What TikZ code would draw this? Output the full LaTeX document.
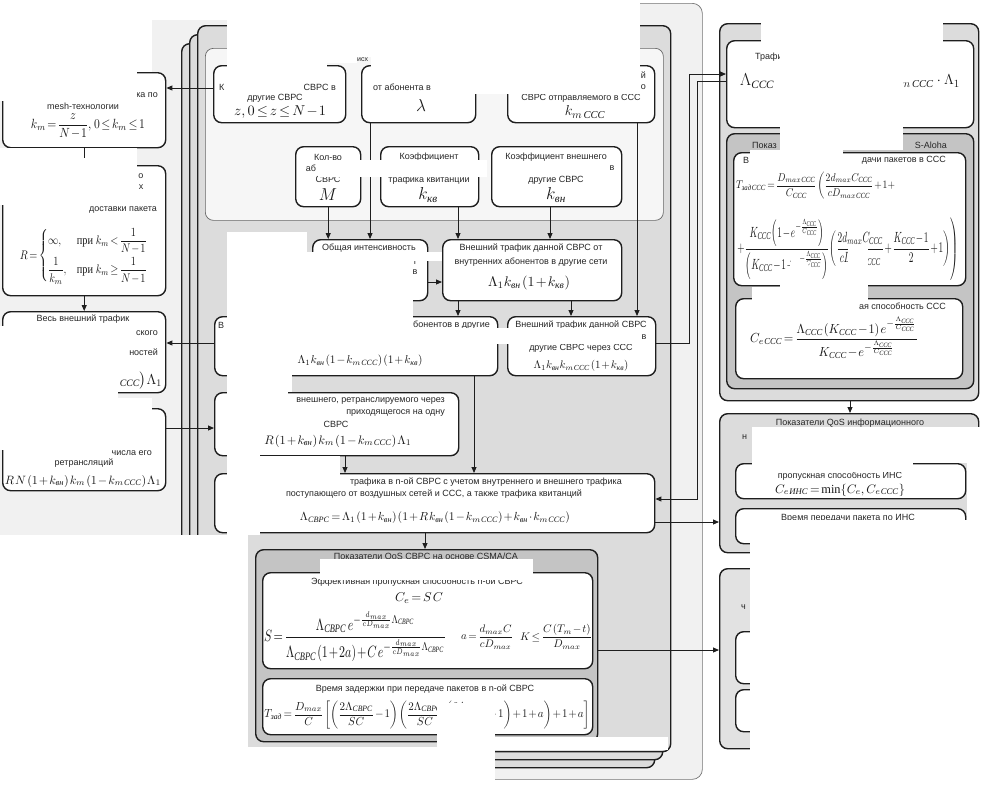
\documentclass[tikz,border=0pt]{standalone}
\usepackage{fontspec}
\usepackage{amsmath}
\usepackage{graphicx}
\setmainfont{Liberation Serif}
\setsansfont{Liberation Sans}
\usetikzlibrary{arrows.meta,calc}
\definecolor{outerc}{HTML}{F1F1F1}
\definecolor{cardc}{HTML}{DCDCDC}
\definecolor{panelc}{HTML}{F6F6F6}
\definecolor{secc}{HTML}{C4C4C4}
\definecolor{brc}{HTML}{E2E2E2}
\definecolor{bdr}{HTML}{1E1E1E}
\newcommand\cy[1]{\text{\itshape #1}}
\newcommand\kvn{k_{\cy{вн}}}
\newcommand\kkv{k_{\cy{кв}}}
\newcommand\Cs{\cy{ССС}}
\newcommand\SV{\cy{СВРС}}
\newcommand\kmc{k_{m\,\Cs}}
\newcommand\bx[6]{\node[#6,anchor=north west,inner sep=0pt,minimum width={((#4)-(#2))*1pt},minimum height={((#5)-(#3))*1pt}] (#1) at (#2,#3) {};}
\newcommand\tight{\medmuskip=1.5mu\thickmuskip=2.5mu\thinmuskip=1.5mu}
\newcommand\fm[2]{\resizebox{#1pt}{!}{\tight$\displaystyle #2$}}
\newcommand\fmh[3]{\resizebox*{#1pt}{#2pt}{\tight$\displaystyle #3$}}
\begin{document}
\begin{tikzpicture}[x=1pt,y=-1pt,
  box/.style={draw=bdr,line width=1.4pt,rounded corners=8pt,fill=white},
  lbl/.style={font=\sffamily\fontsize{9}{10.5}\selectfont,text=black!85,inner sep=0pt},
  fml/.style={inner sep=0pt,text=black!90},
  arr/.style={-{Triangle[length=6pt,width=5pt]},line width=0.9pt,draw=bdr},
  patch/.style={fill=white}]
\useasboundingbox (0,0) rectangle (982,785);
% containers
\bx{outer}{-10}{3}{702}{779}{draw=black!55,line width=0.7pt,fill=outerc,rounded corners=10pt}
\bx{cardc}{181}{43}{654}{767}{box,fill=cardc}
\bx{cardb}{189}{34}{662}{759}{box,fill=cardc}
\bx{carda}{197}{25}{670}{751}{box,fill=cardc}
\bx{panel}{205}{48}{663}{220}{draw=black!60,line width=0.7pt,fill=panelc,rounded corners=8pt}
% left column
\bx{L1}{2}{72}{165}{147}{box}
\bx{L2}{2}{165}{165}{295}{box}
\bx{L3}{2}{311}{165}{392}{box}
\bx{L4}{2}{408}{165}{490}{box}
% panel boxes
\bx{Z}{213}{65}{345}{122}{box}
\bx{Lam}{361}{65}{475}{122}{box}
\bx{Kmc}{507}{65}{654}{122}{box}
\bx{M}{295}{146}{360}{206}{box}
\bx{Kkv}{380}{146}{478}{206}{box}
\bx{Kvn}{491}{146}{621}{206}{box}
% middle
\bx{Int}{312}{239}{427}{300}{box}
\bx{IT}{442}{239}{621}{300}{box}
\bx{B1}{214}{316}{497}{375}{box}
\bx{B2}{507}{316}{655}{375}{box}
\bx{Rb}{214}{392}{458}{455}{box}
\bx{LC}{214}{473}{654}{532}{box}
\bx{CS}{255}{549}{597}{741}{box,fill=secc}
\bx{Sb}{262}{572}{592}{668}{box}
\bx{Tb}{262}{678}{592}{734}{box}
% right column
\bx{RC1}{719}{23}{978}{400}{box,fill=cardc}
\bx{TC}{726}{40}{973}{127}{box}
\bx{SA}{726}{133}{973}{388}{box,fill=secc}
\bx{Tc}{733}{152}{965}{285}{box}
\bx{Cc}{735}{298}{962}{378}{box}
\bx{IQ}{719}{413}{978}{552}{box,fill=cardc}
\bx{IQa}{735}{463}{965}{498}{box}
\bx{IQb}{735}{508}{965}{543}{box}
\bx{BR}{719}{568}{978}{748}{box,fill=brc}
\bx{BRa}{735}{631}{965}{683}{box}
\bx{BRb}{735}{689}{965}{731}{box}
% connectors
\draw[arr] (Z.west |- 0,88) -- (L1.east |- 0,88);
\draw[arr] (L1.south) -- (L2.north);
\draw[arr] (L2.south) -- (L3.north);
\draw[arr] (B1.west |- 0,343) -- (L3.east |- 0,343);
\draw[arr] (L4.east |- 0,428) -- (Rb.west |- 0,428);
\draw[arr] (M.south) -- (Int.north -| M.south);
\draw[arr] (Lam.south -| 370,0) -- (Int.north -| 370,0);
\draw[arr] (Kkv.south -| 458,0) -- (IT.north -| 458,0);
\draw[arr] (Kvn.south -| 550,0) -- (IT.north -| 550,0);
\draw[arr] (Int.east |- 0,282) -- (IT.west |- 0,282);
\draw[arr] (Kmc.south -| 637,0) -- (B2.north -| 637,0);
\draw[arr] (IT.south -| 458,0) -- (B1.north -| 458,0);
\draw[arr] (IT.south -| 571,0) -- (B2.north -| 571,0);
\draw[arr] (Rb.south -| 345,0) -- (LC.north -| 345,0);
\draw[arr] (B1.south -| 474,0) -- (LC.north -| 474,0);
\draw[arr] (LC.south -| 425,0) -- (CS.north -| 425,0);
\draw[arr] (B2.east |- 0,343) -- (689,343) -- (689,74) -- (TC.west |- 0,74);
\draw[arr] (TC.west |- 0,81) -- (697,81) -- (697,499) -- (LC.east |- 0,499);
\draw[arr] (LC.east |- 0,522) -- (IQ.west |- 0,522);
\draw[arr] (CS.east |- 0,650) -- (BR.west |- 0,650);
\draw[arr] (RC1.south -| 850,0) -- (IQ.north -| 850,0);
% texts: left column
\node[lbl,anchor=east] (t1) at (158,95) {трафика по};
\node[lbl] (t2) at (83,106) {mesh-технологии};
\node[fml] (f1) at (88,126) {\fmh{114}{25}{k_m=\frac{z}{N-1},\;0\le k_m\le 1}};
\node[lbl] (t3) at (141,176) {о};
\node[lbl] (t4) at (141,187) {х};
\node[lbl,anchor=east] (t5) at (157,210) {доставки пакета};
\node[fml] (f2) at (84,256) {\fmh{128}{56}{R=\begin{cases}\infty, & \text{при } k_m<\dfrac{1}{N-1}\\[6pt] \dfrac{1}{k_m}, & \text{при } k_m\ge\dfrac{1}{N-1}\end{cases}}};
\node[lbl] (t6) at (83,319) {Весь внешний трафик};
\node[lbl,anchor=east] (t7) at (158,333) {ского};
\node[lbl,anchor=east] (t8) at (158,352) {ностей};
\node[fml,anchor=east] (f3) at (162,381) {\fontsize{14}{16}\selectfont$\kmc\bigr)\Lambda_1$};
\node[lbl,anchor=east] (t9) at (152,453) {числа его};
\node[lbl] (t10) at (84,463) {ретрансляций};
\node[fml] (f4) at (83,481) {\fm{156}{R\,N\left(1+\kvn\right)k_m\left(1-\kmc\right)\Lambda_1}};
% panel texts
\node[lbl,anchor=west] (t11) at (219,87) {К};
\node[lbl,anchor=east] (t12) at (336,87) {СВРС в};
\node[lbl] (t13) at (275,98) {другие СВРС};
\node[fml] (f5) at (280,112) {\fm{92}{z,\,0\le z\le N-1}};
\node[lbl,anchor=west,font=\sffamily\fontsize{7}{8}\selectfont] (t14) at (357,60) {исх};
\node[lbl] (t15) at (402,87) {от абонента в};
\node[fml] (f6) at (421,105) {\fontsize{19}{21}\selectfont$\lambda$};
\node[lbl,anchor=east] (t16) at (646,75) {й};
\node[lbl,anchor=east] (t17) at (646,87) {о};
\node[lbl] (t18) at (581,98) {СВРС отправляемого в ССС};
\node[fml] (f7) at (585,112) {\fontsize{15}{17}\selectfont$\kmc$};
\node[lbl] (t19) at (328,157) {Кол-во};
\node[lbl] (t20) at (311,168) {аб};
\node[lbl] (t21) at (328,179) {СВРС};
\node[fml] (f8) at (328,195) {\fontsize{16}{18}\selectfont$M$};
\node[lbl] (t22) at (429,157) {Коэффициент};
\node[lbl] (t23) at (429,180) {трафика квитанций};
\node[fml] (f9) at (428,195) {\fontsize{16}{18}\selectfont$\kkv$};
\node[lbl] (t24) at (556,157) {Коэффициент внешнего};
\node[lbl] (t25) at (612,168) {в};
\node[lbl] (t26) at (556,180) {другие СВРС};
\node[fml] (f10) at (556,195) {\fontsize{16}{18}\selectfont$\kvn$};
% middle texts
\node[lbl] (t27) at (369,248) {Общая интенсивность};
\node[lbl] (t28) at (415,262) {т};
\node[lbl] (t29) at (415,272) {в};
\node[lbl] (t30) at (531,248) {Внешний трафик данной СВРС от};
\node[lbl] (t31) at (531,262) {внутренних абонентов в другие сети};
\node[fml] (f11) at (529,283) {\fm{82}{\Lambda_1 \kvn\left(1+\kkv\right)}};
\node[lbl,anchor=west] (t32) at (218,325) {В};
\node[lbl,anchor=east] (t33) at (490,325) {абонентов в другие};
\node[fml] (f12) at (360,361) {\fm{125}{\Lambda_1 \kvn\left(1-\kmc\right)\left(1+\kkv\right)}};
\node[lbl] (t34) at (581,325) {Внешний трафик данной СВРС};
\node[lbl] (t35) at (644,337) {в};
\node[lbl] (t36) at (581,348) {другие СВРС через ССС};
\node[fml] (f13) at (581,366) {\fm{95}{\Lambda_1 \kvn\kmc\left(1+\kkv\right)}};
\node[lbl,anchor=east] (t37) at (445,401) {внешнего, ретранслируемого через};
\node[lbl,anchor=east] (t38) at (445,413) {приходящегося на одну};
\node[lbl] (t39) at (336,424) {СВРС};
\node[fml] (f14) at (338,441) {\fm{147}{R\left(1+\kvn\right)k_m\left(1-\kmc\right)\Lambda_1}};
\node[lbl,anchor=east] (t40) at (622,482) {трафика в n-ой СВРС с учетом внутреннего и внешнего трафика};
\node[lbl] (t41) at (434,494) {поступающего от воздушных сетей и ССС, а также трафика квитанций};
\node[fml] (f15) at (435,518) {\fm{270}{\Lambda_{\SV}=\Lambda_1\left(1+\kvn\right)\left(1+R\,\kvn\left(1-\kmc\right)+\kvn\cdot\kmc\right)}};
% CSMA
\node[lbl] (t42) at (426,557) {Показатели QoS СВРС на основе CSMA/CA};
\node[lbl] (t43) at (417,582) {Эффективная пропускная способность n-ой СВРС};
\node[fml] (f16) at (419,598) {\fm{48}{C_e=S\,C}};
\node[fml] (f17) at (355,637) {\fmh{182}{50}{S=\frac{\Lambda_{\SV}\;e^{-\frac{d_{max}}{cD_{max}}\Lambda_{\SV}}}{\Lambda_{\SV}\left(1+2a\right)+C\,e^{-\frac{d_{max}}{cD_{max}}\Lambda_{\SV}}}}};
\node[fml] (f18) at (487,637) {\fm{52}{a=\frac{d_{max}C}{cD_{max}}}};
\node[fml] (f19) at (556,637) {\fm{72}{K\le\frac{C\left(T_m-t\right)}{D_{max}}}};
\node[lbl] (t44) at (425,689) {Время задержки при передаче пакетов в n-ой СВРС};
\node[fml] (f20) at (427,715) {\fmh{325}{28}{T_{\cy{зад}}=\frac{D_{max}}{C}\left[\left(\frac{2\Lambda_{\SV}}{SC}-1\right)\left(\frac{2\Lambda_{\SV}}{SC}\left(\frac{2\Lambda_{\SV}}{SC}-1\right)+1+a\right)+1+a\right]}};
% right texts
\node[lbl,anchor=west] (t45) at (755,57) {Трафик};
\node[fml,anchor=west] (f21) at (740,81) {\fontsize{16}{18}\selectfont$\Lambda_{\Cs}$};
\node[fml,anchor=east] (f22) at (960,81) {\fontsize{15}{17}\selectfont$\kmc\cdot\Lambda_1$};
\node[lbl,anchor=west] (t46) at (752,145) {Показ};
\node[lbl,anchor=east] (t47) at (947,145) {S-Aloha};
\node[lbl,anchor=west] (t48) at (743,160) {В};
\node[lbl,anchor=east] (t49) at (946,160) {дачи пакетов в ССС};
\node[fml,anchor=west] (f23) at (736,186) {\fmh{160}{27}{T_{\cy{зад}\,\Cs}=\frac{D_{max\,\Cs}}{C_{\Cs}}\left(\frac{2d_{max}C_{\Cs}}{cD_{max\,\Cs}}+1+\right.}};
\node[fml,anchor=west] (f24) at (736,249) {\fmh{222}{62}{\left.+\frac{K_{\Cs}\left(1-e^{-\frac{\Lambda_{\Cs}}{C_{\Cs}}}\right)}{\left(K_{\Cs}-1+e^{-\frac{\Lambda_{\Cs}}{C_{\Cs}}}\right)}\left(\frac{2d_{max}C_{\Cs}}{cD_{max\,\Cs}}+\frac{K_{\Cs}-1}{2}+1\right)\right)}};
\node[lbl,anchor=east] (t50) at (946,306) {ая способность ССС};
\node[fml] (f25) at (834,338) {\fmh{168}{42}{C_{e\,\Cs}=\frac{\Lambda_{\Cs}\left(K_{\Cs}-1\right)e^{-\frac{\Lambda_{\Cs}}{C_{\Cs}}}}{K_{\Cs}-e^{-\frac{\Lambda_{\Cs}}{C_{\Cs}}}}}};
\node[lbl] (t51) at (850,423) {Показатели QoS информационного};
\node[lbl,anchor=west] (t52) at (742,437) {н};
\node[lbl] (t53) at (840,476) {пропускная способность ИНС};
\node[fml] (f26) at (840,490) {\fm{130}{C_{e\,\cy{ИНС}}=\min\{C_e,\,C_{e\,\Cs}\}}};
\node[lbl] (t54) at (848,518) {Время передачи пакета по ИНС};
\node[lbl,anchor=west] (t55) at (741,607) {ч};
% white patches
\fill[patch] (0,0) rectangle (640,20);
\fill[patch] (0,20) rectangle (152,72);
\fill[patch] (0,72) rectangle (137,101);
\fill[patch] (0,148) rectangle (137,205);
\fill[patch] (0,326) rectangle (118,398);
\fill[patch] (0,398) rectangle (152,450);
\fill[patch] (227,20) rectangle (640,57);
\fill[patch] (227,57) rectangle (327,81);
\fill[patch] (327,57) rectangle (357,63);
\fill[patch] (227,81) rectangle (300,93);
\fill[patch] (371,57) rectangle (640,82);
\fill[patch] (436,82) rectangle (640,94);
\fill[patch] (318,160) rectangle (487,177);
\fill[patch] (227,232) rectangle (307,252);
\fill[patch] (227,252) rectangle (413,333);
\fill[patch] (413,252) rectangle (442,261);
\fill[patch] (413,328) rectangle (641,344);
\fill[patch] (227,333) rectangle (292,392);
\fill[patch] (227,392) rectangle (288,430);
\fill[patch] (227,430) rectangle (260,535);
\fill[patch] (260,456) rectangle (340,489);
\fill[patch] (260,489) rectangle (280,500);
\fill[patch] (0,535) rectangle (248,785);
\fill[patch] (248,747) rectangle (437,785);
\fill[patch] (437,703) rectangle (495,785);
\fill[patch] (495,737) rectangle (668,750);
\fill[patch] (320,559) rectangle (533,580);
\fill[patch] (761,0) rectangle (943,47);
\fill[patch] (780,47) rectangle (903,150);
\fill[patch] (750,150) rectangle (843,166);
\fill[patch] (790,262) rectangle (808,300);
\fill[patch] (848,246) rectangle (868,300);
\fill[patch] (780,285) rectangle (858,317);
\fill[patch] (752,287) rectangle (858,317);
\fill[patch] (752,427) rectangle (913,472);
\fill[patch] (913,427) rectangle (982,463);
\fill[patch] (967,463) rectangle (982,520);
\fill[patch] (750,520) rectangle (982,785);
% small stub of connector visible below L1
\draw[line width=0.9pt,draw=bdr] (L1.south) -- ([yshift=-10pt]L1.south);
\end{tikzpicture}
\end{document}
